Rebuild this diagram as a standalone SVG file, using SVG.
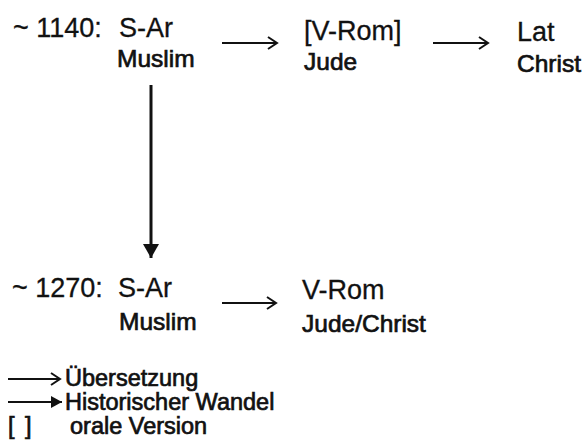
<svg xmlns="http://www.w3.org/2000/svg" width="585" height="446" viewBox="0 0 585 446">
<style>
.main{font-family:"Liberation Sans",Arial,sans-serif;font-size:27px;fill:#111;stroke:#111;stroke-width:0.3;}
.sub{font-family:"Liberation Sans",Arial,sans-serif;font-size:24.5px;fill:#111;stroke:#111;stroke-width:0.7;}
.leg{font-family:"Liberation Sans",Arial,sans-serif;font-size:23.5px;fill:#111;stroke:#111;stroke-width:0.7;}
.tr{stroke:#111;stroke-width:2;fill:none;}
.hist{stroke:#111;stroke-width:3;fill:none;}
</style>
<defs>
<marker id="open" markerWidth="12" markerHeight="14" refX="10" refY="7" orient="auto" markerUnits="userSpaceOnUse">
<path d="M1,1 L10,7 L1,13" fill="none" stroke="#111" stroke-width="2"/>
</marker>
<marker id="fill" markerWidth="16" markerHeight="16" refX="14" refY="8" orient="auto" markerUnits="userSpaceOnUse">
<path d="M0,0 L14,8 L0,16 Z" fill="#111"/>
</marker>
<marker id="fillsm" markerWidth="12" markerHeight="12" refX="11" refY="6" orient="auto" markerUnits="userSpaceOnUse">
<path d="M0,0 L11,6 L0,12 Z" fill="#111"/>
</marker>
</defs>
<g id="connectors">
<line class="tr" x1="222" y1="43" x2="277" y2="43" marker-end="url(#open)"/>
<line class="tr" x1="433" y1="43" x2="488" y2="43" marker-end="url(#open)"/>
<line class="hist" x1="151" y1="85" x2="151" y2="258" marker-end="url(#fill)"/>
<line class="tr" x1="222" y1="303" x2="276" y2="303" marker-end="url(#open)"/>
</g>
<g id="date1140"><text class="main" x="13" y="37">~ 1140:</text></g>
<g id="sar1140"><text class="main" x="119" y="37">S-Ar</text><text class="sub" x="117" y="67">Muslim</text></g>
<g id="vrom1140"><text class="main" x="304" y="40">[V-Rom]</text><text class="sub" x="304" y="70">Jude</text></g>
<g id="lat1140"><text class="main" x="517" y="41">Lat</text><text class="sub" x="517" y="72">Christ</text></g>
<g id="date1270"><text class="main" x="12" y="297">~ 1270:</text></g>
<g id="sar1270"><text class="main" x="118" y="297">S-Ar</text><text class="sub" x="119" y="330">Muslim</text></g>
<g id="vrom1270"><text class="main" x="302" y="299">V-Rom</text><text class="sub" x="302" y="332">Jude/Christ</text></g>
<g id="legend">
<line class="tr" x1="8" y1="379" x2="60" y2="379" marker-end="url(#open)"/>
<text class="leg" x="65" y="386">Übersetzung</text>
<line class="tr" x1="8" y1="402" x2="62" y2="402" marker-end="url(#fillsm)"/>
<text class="leg" x="65" y="410">Historischer Wandel</text>
<text class="leg" x="8" y="434">[</text>
<text class="leg" x="25" y="434">]</text>
<text class="leg" x="70" y="434">orale Version</text>
</g>
</svg>
